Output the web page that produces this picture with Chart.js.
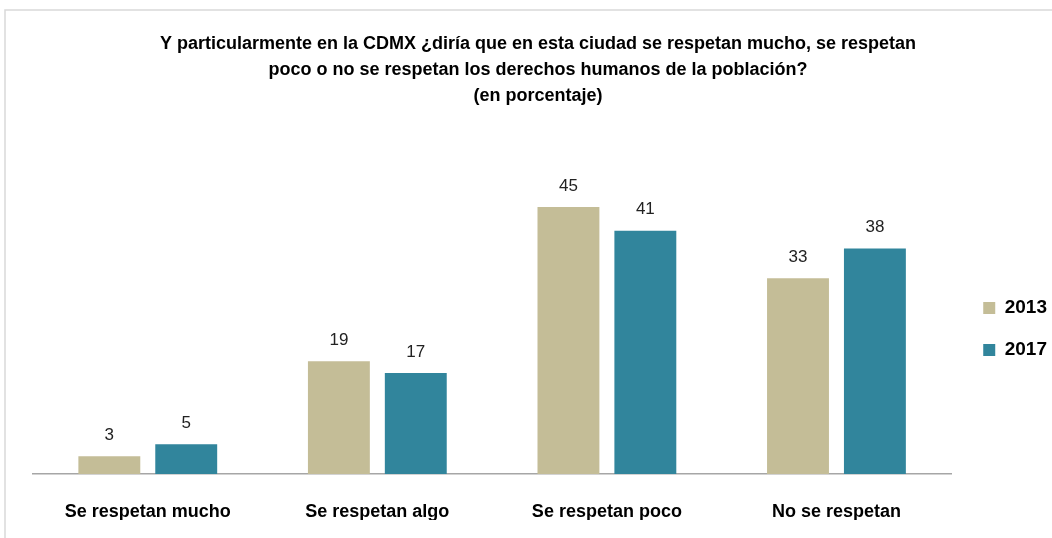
<!DOCTYPE html>
<html>
<head>
<meta charset="utf-8">
<script src="https://cdn.jsdelivr.net/npm/chart.js@4.4.1/dist/chart.umd.min.js"></script>
<style>
  html, body { margin: 0; padding: 0; background: #ffffff; }
  #wrap { width: 1052px; height: 538px; position: relative; }
</style>
</head>
<body>
<div id="wrap"><canvas id="chart"></canvas></div>
<script>
const categories = ['Se respetan mucho', 'Se respetan algo', 'Se respetan poco', 'No se respetan'];
const years = ['2013', '2017'];
const values2013 = [3, 19, 45, 33];
const values2017 = [5, 17, 41, 38];
const titleLines = [
    'Y particularmente en la CDMX ¿diría que en esta ciudad se respetan mucho, se respetan',
    'poco o no se respetan los derechos humanos de la población?',
    '(en porcentaje)'
];

const FONT = "'Liberation Sans', sans-serif";

// Frame line around the chart (top and left edge)
const framePlugin = {
    id: 'frame',
    beforeDraw(chart) {
        const ctx = chart.ctx;
        ctx.save();
        ctx.strokeStyle = '#d9d9d9';
        ctx.lineWidth = 1.5;
        ctx.beginPath();
        ctx.moveTo(5, 538);
        ctx.lineTo(5, 10);
        ctx.lineTo(1052, 10);
        ctx.stroke();
        ctx.restore();
    }
};

// Value labels above each bar
const valueLabels = {
    id: 'valueLabels',
    afterDatasetsDraw(chart) {
        const ctx = chart.ctx;
        ctx.save();
        ctx.font = "17px 'Liberation Sans', sans-serif";
        ctx.fillStyle = '#222222';
        ctx.textAlign = 'center';
        ctx.textBaseline = 'middle';
        chart.data.datasets.forEach((ds, i) => {
            chart.getDatasetMeta(i).data.forEach((bar, j) => {
                ctx.fillText(ds.data[j], bar.x, bar.y - 21);
            });
        });
        ctx.restore();
    }
};

new Chart(document.getElementById('chart').getContext('2d'), {
    type: 'bar',
    data: {
        labels: categories,
        datasets: [
            { label: years[0], data: values2013, backgroundColor: '#c4bd97' },
            { label: years[1], data: values2017, backgroundColor: '#31859c' }
        ]
    },
    options: {
        responsive: true,
        maintainAspectRatio: false,
        animation: false,
        events: [],
        layout: {
            padding: { left: 19, right: -5, top: 31, bottom: 18 }
        },
        datasets: {
            bar: {
                categoryPercentage: 0.67,
                barPercentage: 0.805
            }
        },
        plugins: {
            title: {
                display: true,
                text: titleLines,
                color: '#000000',
                font: { family: FONT, size: 18, weight: 'bold', lineHeight: 1.45 },
                padding: { top: 0, bottom: 68 },
                fullSize: true
            },
            legend: {
                position: 'right',
                align: 'start',
                title: {
                    display: true,
                    text: '',
                    font: { size: 12, lineHeight: 1.2 },
                    padding: { top: 230, bottom: 0 } // pushes the two entries down beside the bars
                },
                labels: {
                    color: '#000000',
                    boxWidth: 12,
                    boxHeight: 12,
                    padding: 23,
                    font: { family: FONT, size: 19, weight: 'bold' }
                }
            },
            tooltip: { enabled: false }
        },
        scales: {
            x: {
                grid: { display: false, drawTicks: false },
                border: { display: true, color: '#a6a6a6', width: 1.5 },
                ticks: {
                    color: '#000000',
                    padding: 27,
                    font: { family: FONT, size: 18, weight: 'bold' }
                },
                afterFit(scale) {
                    scale.height = 46; // keep labels close to the baseline
                }
            },
            y: {
                min: 0,
                max: 50,
                grid: { display: false },
                border: { display: false },
                ticks: { display: false },
                afterFit(scale) {
                    scale.width = 14; // empty gutter left of the bars
                }
            },
            gap: {
                // empty axis on the right, only to leave a gap before the legend
                position: 'right',
                grid: { display: false },
                border: { display: false },
                ticks: { display: false },
                afterFit(scale) {
                    scale.width = 9;
                }
            }
        }
    },
    plugins: [framePlugin, valueLabels]
});
</script>
</body>
</html>
